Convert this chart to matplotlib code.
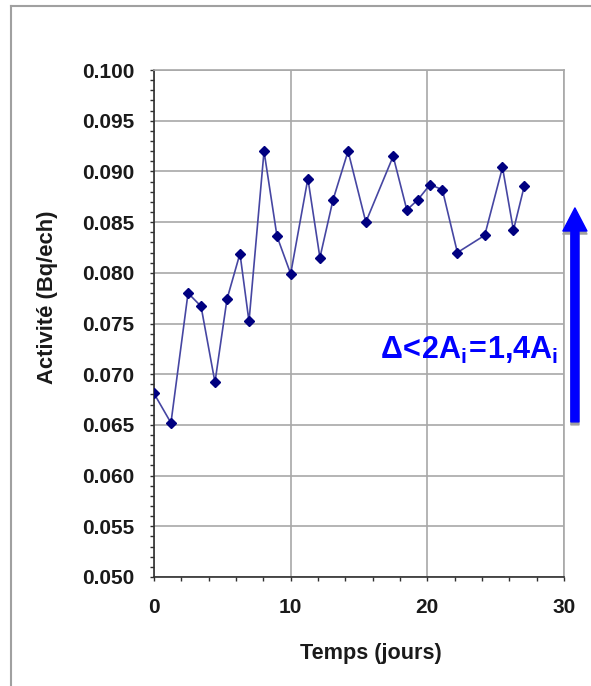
import matplotlib
matplotlib.use("Agg")
import matplotlib.pyplot as plt
from matplotlib.ticker import MultipleLocator, FormatStrFormatter
from matplotlib.lines import Line2D

plt.rcParams['font.family'] = ['Liberation Sans', 'DejaVu Sans']
plt.rcParams['font.weight'] = 'bold'
plt.rcParams['mathtext.fontset'] = 'custom'
plt.rcParams['mathtext.bf'] = 'Liberation Sans:bold'
plt.rcParams['mathtext.rm'] = 'Liberation Sans:bold'
plt.rcParams['mathtext.it'] = 'Liberation Sans:bold'

# temps (jours) et activite (Bq/ech)
temps = [0.0, 1.24, 2.49, 3.44, 4.46, 5.34, 6.29, 6.95, 8.05, 9.0, 10.0,
         11.26, 12.14, 13.1, 14.2, 15.5, 17.5, 18.5, 19.3, 20.2, 21.1,
         22.2, 24.2, 25.5, 26.3, 27.1]
activite = [0.0681, 0.0652, 0.0780, 0.0767, 0.0692, 0.0774, 0.0819, 0.0752,
            0.0920, 0.0836, 0.0799, 0.0893, 0.0815, 0.0872, 0.0920, 0.0850,
            0.0915, 0.0862, 0.0872, 0.0887, 0.0882, 0.0820, 0.0837, 0.0904,
            0.0842, 0.0886]

# fleche delta
fleche_x = 30.8
fleche_bas = 0.0653
fleche_haut = 0.0864
texte = r'$\mathbf{\Delta\!<\!2A_i\!=\!1{,}4A_i}$'

fig = plt.figure(figsize=(5.91, 6.86), dpi=100)
ax = fig.add_axes([0.2606, 0.1589, 0.6937, 0.739])

ax.plot(temps, activite, color='#4646a2', lw=1.2, marker='D', markersize=4.8,
        markerfacecolor='#000080', markeredgecolor='#000080', zorder=3)

ax.set_xlim(0, 30)
ax.set_ylim(0.05, 0.1)
ax.xaxis.set_major_locator(MultipleLocator(10))
ax.xaxis.set_minor_locator(MultipleLocator(2))
ax.yaxis.set_major_locator(MultipleLocator(0.005))
ax.yaxis.set_minor_locator(MultipleLocator(0.001))
ax.yaxis.set_major_formatter(FormatStrFormatter('%.3f'))

ax.grid(True, which='major', color='#a8a8a8', lw=1.2)
ax.set_axisbelow(True)
for s in ['top', 'right']:
    ax.spines[s].set_color('#a8a8a8')
    ax.spines[s].set_linewidth(1.2)
for s in ['left', 'bottom']:
    ax.spines[s].set_color('#303030')
    ax.spines[s].set_linewidth(1.2)

ax.tick_params(which='both', direction='out', length=3, width=1, color='#303030')
ax.tick_params(axis='y', which='major', labelsize=15, pad=11)
ax.tick_params(axis='x', which='major', labelsize=15, pad=12)
for lab in ax.get_xticklabels() + ax.get_yticklabels():
    lab.set_fontweight('bold')
    lab.set_color('#1a1a1a')

ax.set_xlabel('Temps (jours)', fontsize=15.6, fontweight='bold', color='#1a1a1a', va='center')
ax.xaxis.set_label_coords(0.528, -0.15)
ax.set_ylabel('Activité (Bq/ech)', fontsize=15.8, fontweight='bold', color='#1a1a1a', va='center')
ax.yaxis.set_label_coords(-0.259, 0.551)

# ombre puis fleche
style = 'simple,head_length=1.66,head_width=1.73,tail_width=0.58'
ax.annotate('', xy=(fleche_x, fleche_haut - 0.0003), xytext=(fleche_x, fleche_bas - 0.0003),
            arrowprops=dict(arrowstyle=style, color='#a0a0a0', mutation_scale=10,
                            shrinkA=0, shrinkB=0), annotation_clip=False)
ax.annotate('', xy=(fleche_x, fleche_haut), xytext=(fleche_x, fleche_bas),
            arrowprops=dict(arrowstyle=style, color='#0000ff', mutation_scale=10,
                            shrinkA=0, shrinkB=0), annotation_clip=False)
ax.text(29.55, 0.0715, texte, color='#0000ff', fontsize=22, ha='right', va='baseline')

# cadre gris
bx = 10.5 / 591
by = 1 - 6.4 / 686
fig.add_artist(Line2D([bx, bx], [0, by], transform=fig.transFigure, color='#a0a0a0', lw=1.5))
fig.add_artist(Line2D([bx, 1], [by, by], transform=fig.transFigure, color='#a0a0a0', lw=1.5))

fig.savefig('out.png', dpi=100)
